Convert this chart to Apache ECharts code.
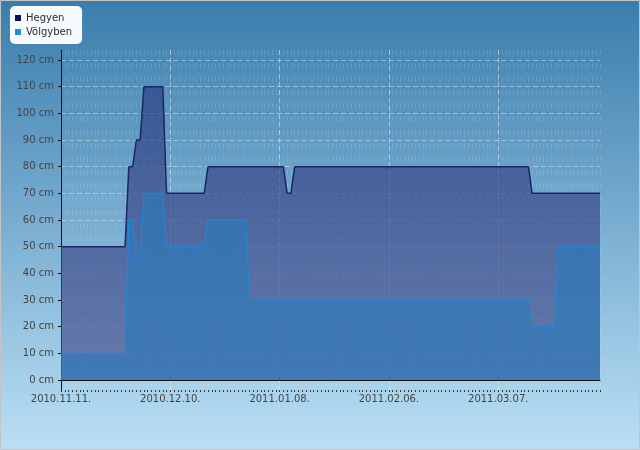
<!DOCTYPE html>
<html><head><meta charset="utf-8">
<script src="https://cdn.jsdelivr.net/npm/echarts@6/dist/echarts.min.js"></script>
<style>html,body{margin:0;padding:0;background:#fff}#c{width:640px;height:450px}</style>
</head><body><div id="c"></div>
<script>
// daily categories from 2010.11.11. (144 days)
const startYear = 2010, startMonthIndex = 10, startDay = 11, dayCount = 144;
const categories = [];
for (let i = 0; i < dayCount; i++) {
  const d = new Date(Date.UTC(startYear, startMonthIndex, startDay + i));
  categories.push(d.getUTCFullYear() + '.' + String(d.getUTCMonth() + 1).padStart(2, '0') + '.' + String(d.getUTCDate()).padStart(2, '0') + '.');
}

const seriesNames = ['Hegyen', 'Völgyben'];

const hegyen = [
  50,50,50,50,50,50,50,50,50,50,50,50,50,50,50,50,50,50,
  80,80,90,90,
  110,110,110,110,110,110,
  70,70,70,70,70,70,70,70,70,70,70,
  80,80,80,80,80,80,80,80,80,80,80,80,80,80,80,80,80,80,80,80,80,
  70,70,
  80,80,80,80,80,80,80,80,80,80,80,80,80,80,80,80,80,80,80,80,80,
  80,80,80,80,80,80,80,80,80,80,80,80,80,80,80,80,80,80,80,80,80,
  80,80,80,80,80,80,80,80,80,80,80,80,80,80,80,80,80,80,80,80,80,
  70,70,70,70,70,70,70,70,70,70,70,70,70,70,70,70,70,70,70
];

const volgyben = [
  10,10,10,10,10,10,10,10,10,10,10,10,10,10,10,10,10,10,
  60,60,45,45,
  70,70,70,70,70,70,
  50,50,50,50,50,50,50,50,50,50,50,
  60,60,60,60,60,60,60,60,60,60,60,
  30,30,30,30,30,30,30,30,30,30,30,30,30,30,30,30,30,30,30,30,30,30,30,30,30,
  30,30,30,30,30,30,30,30,30,30,30,30,30,30,30,30,30,30,30,30,30,30,30,30,30,
  30,30,30,30,30,30,30,30,30,30,30,30,30,30,30,30,30,30,30,30,30,30,30,30,30,
  20,20,20,20,20,20,20,
  50,50,50,50,50,50,50,50,50,50,50,50
];

const yTickValues = [0,10,20,30,40,50,60,70,80,90,100,110,120];
const yUnit = ' cm';

const chart = echarts.init(document.getElementById('c'), null, {renderer: 'canvas'});
const font = 'DejaVu Sans';
chart.setOption({
  animation: false,
  backgroundColor: {type:'linear', x:0, y:0, x2:0, y2:1, colorStops:[{offset:0, color:'#3a7dad'},{offset:1, color:'#badff5'}]},
  textStyle: {fontFamily: font},
  graphic: [{type:'rect', silent:true, z:100, shape:{x:0.5, y:0.5, width:639, height:449}, style:{fill:null, stroke:'#c4c4c4', lineWidth:1}}],
  legend: {
    left: 10, top: 6, orient: 'vertical',
    itemWidth: 6, itemHeight: 6, itemGap: 2, itemTextGap: 3,
    padding: [6, 10, 6, 5],
    backgroundColor: '#f8fbfe', borderRadius: 5,
    textStyle: {fontSize: 10, color: '#2a2a2a', fontFamily: font, lineHeight: 12},
    data: [
      {name: seriesNames[0], icon: 'rect', itemStyle: {color: '#0b0b5a'}},
      {name: seriesNames[1], icon: 'rect', itemStyle: {color: '#1b8fd9'}}
    ]
  },
  grid: {left: 61, right: 40, top: 50, bottom: 60},
  xAxis: [
    {
      type: 'category', data: categories, boundaryGap: false, position: 'bottom',
      axisLine: {lineStyle: {color: '#111', width: 1}},
      axisTick: {interval: 28, inside: true, length: 3, lineStyle: {color: '#111'}},
      axisLabel: {interval: 28, margin: 4, color: '#444', fontSize: 10, fontFamily: font},
      splitLine: {show: true, interval: 28, lineStyle: {color: 'rgba(255,255,255,0.42)', type: [5, 3]}}
    },
    {
      type: 'category', data: categories, boundaryGap: false, position: 'bottom',
      axisLine: {show: false},
      axisTick: {interval: 0, length: 2, lineStyle: {color: '#333'}},
      axisLabel: {show: false},
      splitLine: {show: true, interval: 0, lineStyle: {color: 'rgba(255,255,255,0.13)', type: [5, 8.33]}}
    }
  ],
  yAxis: {
    type: 'value', min: -3.75, max: 123.75,
    axisLine: {show: true, lineStyle: {color: '#111'}},
    axisTick: {show: true, length: 3, customValues: yTickValues, lineStyle: {color: '#111'}},
    axisLabel: {customValues: yTickValues, formatter: v => v + yUnit, margin: 7, color: '#444', fontSize: 10, fontFamily: font},
    splitLine: {show: true, lineStyle: {color: 'rgba(255,255,255,0.42)', type: [5, 3]}}
  },
  series: [
    {
      name: seriesNames[0], type: 'line', data: hegyen, symbol: 'none',
      lineStyle: {color: '#1a2668', width: 1.5}, itemStyle: {color: '#1a2668'},
      areaStyle: {color: {type:'linear', x:0, y:0, x2:0, y2:1, colorStops:[{offset:0, color:'rgba(42,58,128,0.95)'},{offset:1, color:'rgba(70,80,142,0.95)'}]}}
    },
    {
      name: seriesNames[1], type: 'line', data: volgyben, symbol: 'none',
      lineStyle: {color: '#2088d6', width: 1}, itemStyle: {color: '#2088d6'},
      areaStyle: {color: 'rgba(46,120,186,0.95)'}
    }
  ]
});
</script></body></html>
